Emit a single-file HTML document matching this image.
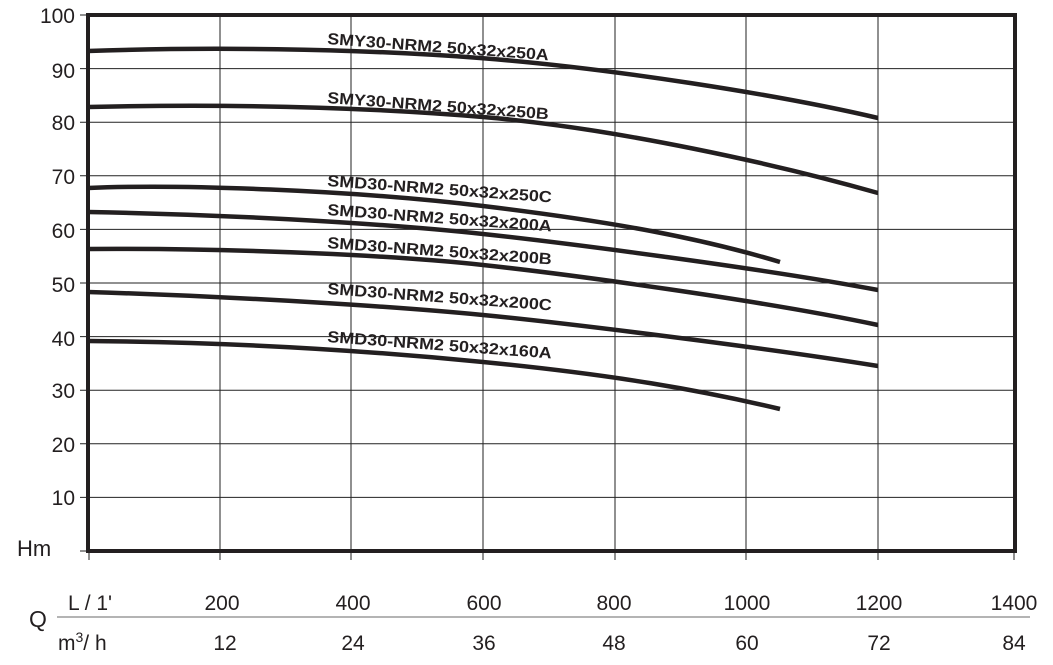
<!DOCTYPE html>
<html><head><style>body{margin:0;background:#fff}</style></head><body>
<svg width="1053" height="660" xmlns="http://www.w3.org/2000/svg" font-family="Liberation Sans, sans-serif">
<g stroke="#222" stroke-width="1">
<line x1="220" y1="15" x2="220" y2="560"/><line x1="351" y1="15" x2="351" y2="560"/><line x1="483" y1="15" x2="483" y2="560"/><line x1="615" y1="15" x2="615" y2="560"/><line x1="746" y1="15" x2="746" y2="560"/><line x1="878" y1="15" x2="878" y2="560"/><line x1="1014" y1="551" x2="1014" y2="560"/><line x1="89" y1="551" x2="89" y2="560"/>
<line x1="80" y1="68.6" x2="1015" y2="68.6"/><line x1="80" y1="122.2" x2="1015" y2="122.2"/><line x1="80" y1="175.8" x2="1015" y2="175.8"/><line x1="80" y1="229.4" x2="1015" y2="229.4"/><line x1="80" y1="283" x2="1015" y2="283"/><line x1="80" y1="336.6" x2="1015" y2="336.6"/><line x1="80" y1="390.2" x2="1015" y2="390.2"/><line x1="80" y1="443.8" x2="1015" y2="443.8"/><line x1="80" y1="497.4" x2="1015" y2="497.4"/><line x1="80" y1="551" x2="88" y2="551"/><line x1="80" y1="15" x2="88" y2="15"/>
</g>
<rect x="88" y="15" width="927" height="536" fill="none" stroke="#231f20" stroke-width="4"/>
<g fill="none" stroke="#231f20" stroke-width="4.5" stroke-linecap="butt">
<path d="M88,51 C200,47 350,48 480,58 S780,95 878,118"/>
<path d="M88,107 C220,104 351,106 483,117 S780,165 878,193"/>
<path d="M88,188 C180,184 351,190 483,206 S700,238 780,262"/>
<path d="M88,212 C250,215 400,225 483,234 S760,268 878,290"/>
<path d="M88,249 C250,248 400,256 483,265 S760,300 878,325"/>
<path d="M88,292 C250,297 400,307 483,315 S760,347 878,366"/>
<path d="M88,341 C220,342 351,349 483,362 S700,390 780,409"/>
</g>
<g font-size="16" font-weight="bold" fill="#231f20">
<text transform="translate(327,44) rotate(4.2)" textLength="222" lengthAdjust="spacingAndGlyphs">SMY30-NRM2 50x32x250A</text>
<text transform="translate(327,103) rotate(4.2)" textLength="222" lengthAdjust="spacingAndGlyphs">SMY30-NRM2 50x32x250B</text>
<text transform="translate(327,186) rotate(4.2)" textLength="225" lengthAdjust="spacingAndGlyphs">SMD30-NRM2 50x32x250C</text>
<text transform="translate(327,215) rotate(4.2)" textLength="225" lengthAdjust="spacingAndGlyphs">SMD30-NRM2 50x32x200A</text>
<text transform="translate(327,248) rotate(4.2)" textLength="225" lengthAdjust="spacingAndGlyphs">SMD30-NRM2 50x32x200B</text>
<text transform="translate(327,294) rotate(4.2)" textLength="225" lengthAdjust="spacingAndGlyphs">SMD30-NRM2 50x32x200C</text>
<text transform="translate(327,342) rotate(4.2)" textLength="225" lengthAdjust="spacingAndGlyphs">SMD30-NRM2 50x32x160A</text>
</g>
<g font-size="21" fill="#231f20" text-anchor="end">
<text x="75" y="23">100</text><text x="75" y="78">90</text><text x="75" y="130">80</text><text x="75" y="184">70</text><text x="75" y="238">60</text><text x="75" y="292">50</text><text x="75" y="346">40</text><text x="75" y="398">30</text><text x="75" y="452">20</text><text x="75" y="505">10</text>
</g>
<text x="17" y="556" font-size="22" fill="#231f20">Hm</text>
<line x1="57" y1="617" x2="1030" y2="617" stroke="#888" stroke-width="1.3"/>
<g font-size="21" fill="#231f20" text-anchor="middle">
<text x="90" y="610">L / 1'</text><text x="222" y="610">200</text><text x="353" y="610">400</text><text x="484" y="610">600</text><text x="614" y="610">800</text><text x="747" y="610">1000</text><text x="879" y="610">1200</text><text x="1014" y="610">1400</text>
<text x="225" y="650">12</text><text x="353" y="650">24</text><text x="484" y="650">36</text><text x="614" y="650">48</text><text x="747" y="650">60</text><text x="879" y="650">72</text><text x="1014" y="650">84</text>
</g>
<text x="29" y="627" font-size="23" fill="#231f20">Q</text>
<text x="58" y="650" font-size="21" fill="#231f20">m<tspan font-size="14" dy="-8">3</tspan><tspan dy="8">/ h</tspan></text>
</svg>
</body></html>
